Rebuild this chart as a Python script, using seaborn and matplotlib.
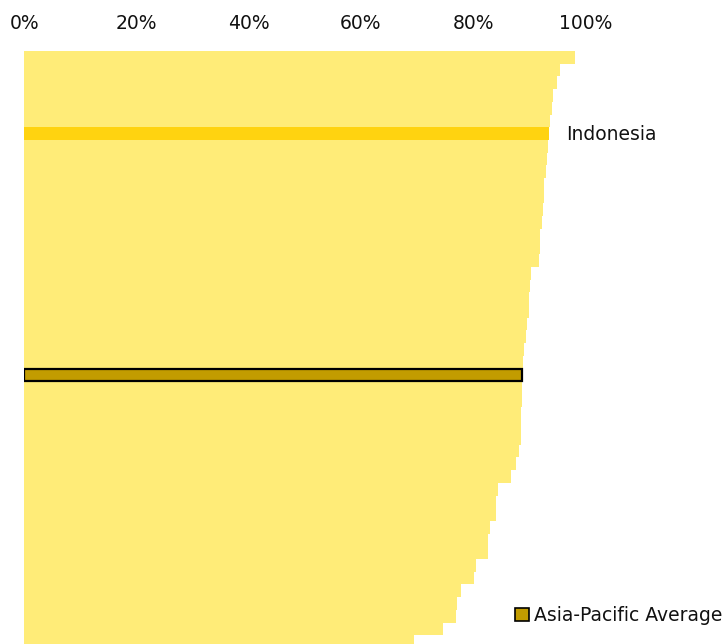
import matplotlib
matplotlib.use("Agg")
import matplotlib.pyplot as plt
from matplotlib.patches import Patch
import seaborn as sns
import pandas as pd

# Share (%) for each economy, sorted from highest to lowest
economies = [f"E{i:02d}" for i in range(47)]
economies[6] = "Indonesia"
economies[25] = "Asia-Pacific Average"

shares = [
    98.2, 95.5, 95.0, 94.2, 94.0, 93.7, 93.5, 93.3, 93.2, 93.0,
    92.6, 92.6, 92.5, 92.3, 92.0, 91.9, 91.7, 90.4, 90.1, 90.0,
    89.9, 89.6, 89.4, 89.0, 88.9, 88.8, 88.8, 88.7, 88.6, 88.6,
    88.5, 88.1, 87.6, 86.8, 84.4, 84.1, 84.0, 83.1, 82.7, 82.6,
    80.5, 80.2, 77.8, 77.2, 77.0, 74.7, 69.5,
]

tick_values = [0, 20, 40, 60, 80, 100]
tick_labels = ["0%", "20%", "40%", "60%", "80%", "100%"]

highlight = "Indonesia"
average = "Asia-Pacific Average"

groups = ["highlight" if e == highlight else "average" if e == average else "other"
          for e in economies]
df = pd.DataFrame({"economy": economies, "share": shares, "group": groups})

palette = {"other": "#FFEC78", "highlight": "#FFD310", "average": "#C29C00"}

sns.set_theme(style="white")
plt.rcParams["font.family"] = ["DejaVu Sans"]
plt.rcParams["text.color"] = "#111111"
FS = 13.5

fig = plt.figure(figsize=(7.27, 6.44), dpi=100)
ax = fig.add_axes([24.3 / 727, 0.0, 561 / 727, 593 / 644])

sns.barplot(data=df, x="share", y="economy", hue="group", palette=palette,
            order=economies, dodge=False, width=1.0, legend=False,
            saturation=1, ax=ax, linewidth=0)

# Outline the regional average bar
avg_idx = economies.index(average)
for patch in ax.patches:
    y_mid = patch.get_y() + patch.get_height() / 2
    if abs(y_mid - avg_idx) < 0.01 and patch.get_width() > 0:
        patch.set_edgecolor("black")
        patch.set_linewidth(1.6)
        patch.set_height(0.92)
        patch.set_y(avg_idx - 0.46)

ax.set_xlim(0, 100)
ax.set_ylim(46.19, -0.5)
ax.set_xticks(tick_values)
ax.set_xticklabels(tick_labels, fontsize=FS, color="#111111")
ax.xaxis.tick_top()
ax.tick_params(axis="x", length=0, pad=13)
ax.set_yticks([])
ax.set_xlabel("")
ax.set_ylabel("")
for s in ax.spines.values():
    s.set_visible(False)

# Label for the highlighted economy
hi_idx = economies.index(highlight)
ax.text(96.5, hi_idx + 0.1, highlight, fontsize=FS, color="#111111",
        va="center", ha="left", clip_on=False)

leg = ax.legend(handles=[Patch(facecolor=palette["average"], edgecolor="black",
                               linewidth=1.2, label=average)],
                loc="lower right", bbox_to_anchor=(1.0 + 3 / 727, 11.5 / 644),
                bbox_transform=fig.transFigure, frameon=False, fontsize=FS,
                handlelength=0.75, handleheight=0.75, handletextpad=0.25,
                borderaxespad=0)
for t in leg.get_texts():
    t.set_color("#111111")

fig.savefig("out.png", dpi=100)
